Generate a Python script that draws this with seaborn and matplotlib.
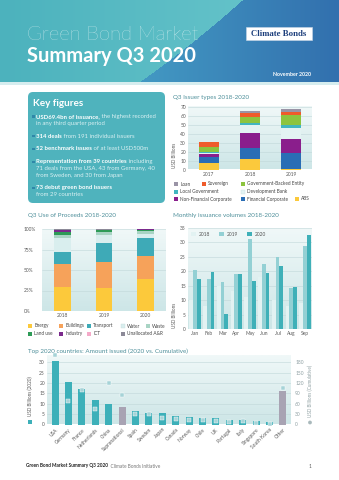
import numpy as np
import pandas as pd
import matplotlib
matplotlib.use("Agg")
import matplotlib.pyplot as plt
import matplotlib.colors as mcolors
from matplotlib.patches import Rectangle, FancyBboxPatch, Circle
import seaborn as sns

# ---------------- data ----------------
issuer_years = ["2017", "2018", "2019"]
issuer_loan = [0.5, 2.3, 3.0]
issuer_sovereign = [5.5, 4.6, 2.7]
issuer_gov_backed = [5.0, 7.1, 11.3]
issuer_local_gov = [1.0, 2.3, 3.8]
issuer_dev_bank = [1.5, 8.7, 12.5]
issuer_nonfin_corp = [4.0, 17.0, 15.8]
issuer_fin_corp = [6.5, 12.5, 17.7]
issuer_abs = [7.0, 11.4, 0.5]

uop_years = ["2018", "2019", "2020"]
uop_energy = [29.5, 27.5, 38.5]
uop_buildings = [27.5, 32.5, 28.5]
uop_transport = [15.0, 22.5, 21.5]
uop_water = [16.5, 10.0, 6.0]
uop_waste = [4.0, 3.3, 2.8]
uop_land_use = [3.3, 2.5, 2.0]
uop_industry = [2.5, 0.5, 0.3]
uop_ict = [0.5, 0.3, 0.2]
uop_unallocated = [1.2, 0.9, 0.2]

months = ["Jan", "Feb", "Mar", "Apr", "May", "Jun", "Jul", "Aug", "Sep"]
monthly_2018 = [10, 8, 15, 13, 11, 18, 10, 8, 9]
monthly_2019 = [20.4, 17.5, 16.3, 18.9, 31.1, 22.6, 25.0, 14.3, 28.7]
monthly_2020 = [17.5, 19.6, 5.3, 18.9, 16.5, 19.5, 21.9, 14.5, 32.6]

countries = ["USA", "Germany", "France", "Netherlands", "China", "Supranational",
             "Spain", "Sweden", "Japan", "Canada", "Norway", "Chile", "UK",
             "Portugal", "Italy", "Singapore", "South Korea", "Other"]
amount_2020 = [30.7, 20.5, 16.9, 12.0, 10.1, 8.5, 6.4, 5.6, 5.6, 4.3, 3.8, 3.1,
               2.9, 2.4, 2.4, 1.8, 1.4, 16.1]
amount_cumulative = [200, 69, 100, 45, 121, 84, 30, 31, 18, 17, 12, 12, 10, 6,
                     9, 3, 2, 107]

# ---------------- style ----------------
W, H = 339, 480
sns.set_style("white")
plt.rcParams["font.family"] = ["Lato", "DejaVu Sans"]

TICK = "#5a5a5a"
TITLE = "#4e8f9a"
GRID = "#c0d7d9"

issuer_types = ["Loan", "Sovereign", "Government-Backed Entity", "Local Government",
                "Development Bank", "Non-Financial Corporate", "Financial Corporate", "ABS"]
issuer_colors = {"Loan": "#9a94a6", "Sovereign": "#ef5b2b",
                 "Government-Backed Entity": "#8cc43f", "Local Government": "#41b6c0",
                 "Development Bank": "#e3f3f3", "Non-Financial Corporate": "#8a1e8c",
                 "Financial Corporate": "#2a6db5", "ABS": "#fbc93c"}
uop_types = ["Unallocated A&R", "ICT", "Industry", "Land use", "Waste", "Water",
             "Transport", "Buildings", "Energy"]
uop_colors = {"Energy": "#fcc93b", "Buildings": "#f6a25a", "Transport": "#3eaab7",
              "Water": "#d9eeee", "Waste": "#a9d4c4", "Land use": "#2e9b57",
              "Industry": "#7b2a8c", "ICT": "#f4a9c8", "Unallocated A&R": "#8c8a98"}
year_colors = {"2018": "#e2f2f2", "2019": "#93d0d4", "2020": "#3fb0b8"}
country_colors = ["#a8a3b3" if c in ("Supranational", "Other") else "#3db0b9" for c in countries]

fig = plt.figure(figsize=(W / 100, H / 100), dpi=100)
fig.patch.set_facecolor("white")


def px(x0, y0, x1, y1):
    return [x0 / W, 1 - y1 / H, (x1 - x0) / W, (y1 - y0) / H]


deco = fig.add_axes([0, 0, 1, 1], zorder=-1)
deco.axis("off")


def vgrad(x0, y0, x1, y1, top="#f0f8f8", bot="#cde6e7"):
    t = np.linspace(0, 1, 64)[:, None, None]
    c0 = np.array(mcolors.to_rgb(top))
    c1 = np.array(mcolors.to_rgb(bot))
    arr = c0 * (1 - t) + c1 * t
    deco.imshow(arr, extent=(x0, x1, y1, y0), aspect="auto",
                interpolation="bilinear", zorder=0)


def style_ax(ax):
    ax.set_facecolor("none")
    for s in ax.spines.values():
        s.set_visible(False)
    ax.tick_params(length=0, labelsize=3.5, colors=TICK, pad=1.5)
    ax.yaxis.grid(True, color=GRID, lw=0.4)
    ax.xaxis.grid(False)
    ax.set_axisbelow(True)
    ax.set_xlabel("")
    ax.set_ylabel("")


# ---------------- header ----------------
X, Y = np.meshgrid(np.arange(W) + 0.5, np.arange(82) + 0.5)
inside = (X + 537) ** 2 + (Y + 872) ** 2 < 1170 ** 2
ci0, ci1 = np.array(mcolors.to_rgb("#4cb2bd")), np.array(mcolors.to_rgb("#63c2c9"))
co0, co1 = np.array(mcolors.to_rgb("#4399c3")), np.array(mcolors.to_rgb("#3270ae"))
ti = np.clip(X / 240, 0, 1)[..., None]
to = np.clip((X - 140) / 199, 0, 1)[..., None]
img = np.where(inside[..., None], ci0 * (1 - ti) + ci1 * ti, co0 * (1 - to) + co1 * to)
deco.imshow(img, extent=(0, W, 82, 0), aspect="auto", interpolation="bilinear", zorder=0)

deco.add_patch(Rectangle((0, 82), W, 2.5, fc="#d6edef", ec="none"))
deco.text(27, 35, "Green Bond Market", fontsize=14.5, fontweight="light",
          color="white", va="center", ha="left", zorder=5)
deco.text(27, 56, "Summary Q3 2020", fontsize=14.5, fontweight="bold",
          color="white", va="center", ha="left", zorder=5)
deco.add_patch(Rectangle((246, 27), 66, 13, fc="white", ec="#c8d6e6", lw=0.4, zorder=4))
deco.text(279, 33.8, "Climate Bonds", fontsize=6.3, fontweight="bold",
          family=["Liberation Serif", "DejaVu Serif"], color="#1d3f7c",
          va="center", ha="center", zorder=5)
deco.text(311, 75, "November 2020", fontsize=3.8, fontweight="bold",
          color="white", va="center", ha="right", zorder=5)

# ---------------- key figures ----------------
deco.add_patch(FancyBboxPatch((28, 92), 137, 111,
                              boxstyle="round,pad=0,rounding_size=5",
                              fc="#4fb3bd", ec="none"))
deco.text(33, 103, "Key figures", fontsize=7.2, fontweight="bold",
          color="white", va="center", ha="left")

BOLD_C = "white"
NORM_C = "#d9f0f2"


def rich(x, y, parts, size=4.3):
    t = deco.text(x, y, parts[0][0], fontsize=size, fontweight=parts[0][1],
                  color=parts[0][2], va="center", ha="left")
    prev = t
    for s, w, c in parts[1:]:
        prev = deco.annotate(s, xy=(1, 0), xycoords=prev, va="bottom", ha="left",
                             fontsize=size, fontweight=w, color=c)


key_lines = [
    (116.5, True, [("USD69.4bn of issuance,", "bold", BOLD_C), (" the highest recorded", "normal", NORM_C)]),
    (123.3, False, [("in any third quarter period", "normal", NORM_C)]),
    (136.0, True, [("314 deals", "bold", BOLD_C), (" from 191 individual issuers", "normal", NORM_C)]),
    (149.0, True, [("52 benchmark issues", "bold", BOLD_C), (" of at least USD500m", "normal", NORM_C)]),
    (161.7, True, [("Representation from 39 countries", "bold", BOLD_C), (" including", "normal", NORM_C)]),
    (168.3, False, [("71 deals from the USA, 43 from Germany, 40", "normal", NORM_C)]),
    (175.0, False, [("from Sweden, and 30 from Japan", "normal", NORM_C)]),
    (187.7, True, [("73 debut green bond issuers", "bold", BOLD_C)]),
    (194.3, False, [("from 29 countries", "normal", NORM_C)]),
]
for y, bullet, parts in key_lines:
    if bullet:
        deco.add_patch(Rectangle((32.3, y - 1.2), 2.3, 2.3, fc="#2f87a8", ec="none"))
    rich(36.5, y, parts)

# ---------------- titles ----------------
deco.text(173, 97, "Q3 Issuer types 2018-2020", fontsize=4.5, color=TITLE, va="center", ha="left")
deco.text(28, 216, "Q3 Use of Proceeds 2018-2020", fontsize=4.5, color=TITLE, va="center", ha="left")
deco.text(173, 216, "Monthly issuance volumes 2018-2020", fontsize=4.5, color=TITLE, va="center", ha="left")
deco.text(28, 351, "Top 2020 countries: Amount issued (2020 vs. Cumulative)", fontsize=4.5,
          color=TITLE, va="center", ha="left")

# ---------------- issuer types ----------------
vgrad(188, 107, 312, 169.5)
ax1 = fig.add_axes(px(188, 107, 312, 169.5), zorder=1)
issuer_series = {"Loan": issuer_loan, "Sovereign": issuer_sovereign,
                 "Government-Backed Entity": issuer_gov_backed,
                 "Local Government": issuer_local_gov, "Development Bank": issuer_dev_bank,
                 "Non-Financial Corporate": issuer_nonfin_corp,
                 "Financial Corporate": issuer_fin_corp, "ABS": issuer_abs}
df_issuer = pd.DataFrame([(y, t, v) for t, vals in issuer_series.items()
                          for y, v in zip(issuer_years, vals)],
                         columns=["year", "type", "value"])
sns.histplot(data=df_issuer, x="year", weights="value", hue="type",
             hue_order=issuer_types, multiple="stack", discrete=True, shrink=0.48,
             palette=issuer_colors, alpha=1, linewidth=0, legend=False, ax=ax1)
style_ax(ax1)
ax1.set_xlim(-0.5, 2.5)
ax1.set_ylim(0, 70)
ax1.set_yticks(range(0, 71, 10))
deco.text(175, 168, "USD Billions", rotation=90, fontsize=3.3, color=TICK,
          va="bottom", ha="center")

issuer_legend = [("Loan", 174, 0), ("Sovereign", 202, 0), ("Government-Backed Entity", 241, 0),
                 ("Local Government", 174, 1), ("Development Bank", 241, 1),
                 ("Non-Financial Corporate", 174, 2), ("Financial Corporate", 241, 2),
                 ("ABS", 295, 2)]
for name, x, r in issuer_legend:
    y = 184 + 7.5 * r
    deco.add_patch(Rectangle((x, y - 2), 4, 4, fc=issuer_colors[name],
                             ec="#c9dede" if name == "Development Bank" else "none", lw=0.3))
    deco.text(x + 6.3, y, name, fontsize=3.4, color="#444", va="center", ha="left")

# ---------------- use of proceeds ----------------
vgrad(42, 229, 166, 311)
ax2 = fig.add_axes(px(42, 229, 166, 311), zorder=1)
uop_series = {"Energy": uop_energy, "Buildings": uop_buildings, "Transport": uop_transport,
              "Water": uop_water, "Waste": uop_waste, "Land use": uop_land_use,
              "Industry": uop_industry, "ICT": uop_ict, "Unallocated A&R": uop_unallocated}
df_uop = pd.DataFrame([(y, t, v) for t, vals in uop_series.items()
                       for y, v in zip(uop_years, vals)],
                      columns=["year", "type", "value"])
sns.histplot(data=df_uop, x="year", weights="value", hue="type", hue_order=uop_types,
             multiple="fill", discrete=True, shrink=0.4, palette=uop_colors,
             alpha=1, linewidth=0, legend=False, ax=ax2)
style_ax(ax2)
ax2.set_xlim(-0.5, 2.5)
ax2.set_ylim(0, 1)
ax2.set_yticks([0, 0.25, 0.5, 0.75, 1.0])
ax2.set_yticklabels(["0%", "25%", "50%", "75%", "100%"])
for lab in ax2.get_yticklabels():
    lab.set_horizontalalignment("left")
ax2.tick_params(axis="y", pad=13)

uop_legend = [("Energy", 28, 0), ("Buildings", 59, 0), ("Transport", 87, 0),
              ("Water", 121, 0), ("Waste", 146, 0), ("Land use", 28, 1),
              ("Industry", 59, 1), ("ICT", 87, 1), ("Unallocated A&R", 121, 1)]
for name, x, r in uop_legend:
    y = 326 + 7.5 * r
    deco.add_patch(Rectangle((x, y - 2), 4, 4, fc=uop_colors[name],
                             ec="#c9dede" if name == "Water" else "none", lw=0.3))
    deco.text(x + 6.3, y, name, fontsize=3.4, color="#444", va="center", ha="left")

# ---------------- monthly issuance ----------------
vgrad(188, 228, 312, 329)
ax3 = fig.add_axes(px(188, 228, 312, 329), zorder=1)
df_month = pd.DataFrame({
    "month": months * 3,
    "year": ["2018"] * 9 + ["2019"] * 9 + ["2020"] * 9,
    "value": monthly_2018 + monthly_2019 + monthly_2020,
})
sns.barplot(data=df_month, x="month", y="value", hue="year", palette=year_colors,
            width=0.82, errorbar=None, saturation=1, linewidth=0, ax=ax3)
style_ax(ax3)
ax3.set_ylim(0, 35)
ax3.set_yticks(range(0, 36, 5))
handles, labels = ax3.get_legend_handles_labels()
ax3.legend(handles, labels, loc="upper left", bbox_to_anchor=(0.0, 0.99), ncol=3,
           frameon=False, fontsize=3.5, handlelength=1.0, handleheight=1.0,
           handletextpad=0.6, columnspacing=1.8, borderaxespad=0.2,
           labelcolor="#555")
deco.text(175, 328, "USD Billions", rotation=90, fontsize=3.3, color=TICK,
          va="bottom", ha="center")

# ---------------- top countries ----------------
vgrad(47, 356, 291, 424.5)
ax4 = fig.add_axes(px(47, 354, 291, 424.5), zorder=1)
sns.barplot(x=countries, y=amount_2020, hue=countries, palette=country_colors,
            legend=False, width=0.52, saturation=1, linewidth=0, ax=ax4)
style_ax(ax4)
ax4.set_xlim(-0.6, len(countries) - 0.4)
ax4.set_ylim(0, 34)
ax4.set_yticks(range(0, 31, 5))
for lab in ax4.get_xticklabels():
    lab.set_rotation(45)
    lab.set_horizontalalignment("right")
    lab.set_rotation_mode("anchor")
    lab.set_fontsize(3.5)
ax4.tick_params(axis="x", pad=2)

ax4b = ax4.twinx()
sns.scatterplot(x=np.arange(len(countries)), y=amount_cumulative, ax=ax4b,
                marker="s", s=5, color="#a6d3d7", edgecolor="white", linewidth=0.3,
                legend=False, zorder=3, clip_on=False)
for s in ax4b.spines.values():
    s.set_visible(False)
ax4b.set_ylim(0, 204)
ax4b.set_yticks(range(0, 181, 30))
ax4b.tick_params(length=0, labelsize=3.5, colors="#8fa0a3", pad=3)
ax4b.grid(False)
ax4b.set_ylabel("")

deco.text(30, 416, "USD Billions (2020)", rotation=90, fontsize=3.3, color=TICK,
          va="bottom", ha="center")
deco.add_patch(Rectangle((27.5, 419.5), 4, 4, fc="#3db0b9", ec="none"))
deco.text(310, 417, "USD Billions (Cumulative)", rotation=90, fontsize=3.3,
          color="#8fa0a3", va="bottom", ha="center")
deco.add_patch(Circle((310, 422.5), 1.9, fc="#a9b9bc", ec="none"))

# ---------------- footer ----------------
rich(26, 466, [("Green Bond Market Summary Q3 2020", "bold", "#222"),
               ("  Climate Bonds Initiative", "normal", "#777")], size=3.4)
deco.text(310, 466, "1", fontsize=3.4, color="#555", va="center", ha="center")

deco.set_xlim(0, W)
deco.set_ylim(H, 0)

fig.savefig("out.png", dpi=100)
